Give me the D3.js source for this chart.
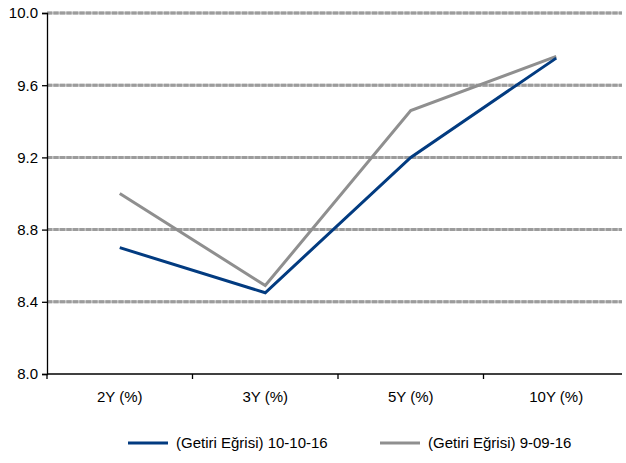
<!DOCTYPE html>
<html>
<head>
<meta charset="utf-8">
<script src="https://cdn.jsdelivr.net/npm/d3@7"></script>
<style>
body { margin: 0; background: #fff; }
text { font-family: "Liberation Sans", Arial, sans-serif; }
</style>
</head>
<body>
<div id="chart"></div>
<script>
var width = 626, height = 463;
var categories = ["2Y (%)", "3Y (%)", "5Y (%)", "10Y (%)"];
var seriesNames = ["(Getiri Eğrisi) 10-10-16", "(Getiri Eğrisi) 9-09-16"];
var blueValues = [8.70, 8.45, 9.20, 9.75];
var grayValues = [9.00, 8.49, 9.46, 9.76];
var yTicks = [8.0, 8.4, 8.8, 9.2, 9.6, 10.0];
var colors = ["#023b80", "#8f8f8f"];

var margin = {left: 47, right: -3, top: 13, bottom: 89};

var svg = d3.select("#chart").append("svg").attr("width", width).attr("height", height);

var x = d3.scaleBand().domain(categories).range([margin.left, width - margin.right]);
var y = d3.scaleLinear().domain([8, 10]).range([height - margin.bottom, margin.top]);

// grid lines: light base with darker dashes on top
var gridVals = yTicks.filter(function (d) { return d > 8; });
["#c4c4c4", "#9c9c9c"].forEach(function (c, k) {
    svg.append("g").selectAll("line").data(gridVals).enter()
        .append("line")
        .attr("x1", margin.left).attr("x2", 622)
        .attr("y1", function (d) { return y(d); }).attr("y2", function (d) { return y(d); })
        .attr("stroke", c).attr("stroke-width", 3)
        .attr("stroke-dasharray", k === 1 ? "5,1.5" : null);
});

var yAxis = d3.axisLeft(y).tickValues(yTicks).tickFormat(d3.format(".1f")).tickSize(5).tickPadding(4);
var yG = svg.append("g").attr("transform", "translate(" + margin.left + ",0)").call(yAxis);
yG.select(".domain").attr("stroke", "#000").attr("stroke-width", 1.3);
yG.selectAll(".tick line").attr("stroke", "#000").attr("stroke-width", 1.3);
yG.selectAll("text").attr("font-size", 15).attr("fill", "#000")
    .attr("font-family", "Liberation Sans, Arial, sans-serif");

// x axis
var xG = svg.append("g").attr("transform", "translate(0," + y(8) + ")");
xG.append("line").attr("x1", margin.left).attr("x2", 622).attr("stroke", "#000").attr("stroke-width", 1.3);
xG.selectAll(".xt").data(categories).enter().append("line")
    .attr("x1", function (d) { return x(d); }).attr("x2", function (d) { return x(d); })
    .attr("y1", 0).attr("y2", 5).attr("stroke", "#000").attr("stroke-width", 1.3);
xG.selectAll("text").data(categories).enter().append("text")
    .attr("x", function (d) { return x(d) + x.bandwidth() / 2; })
    .attr("y", 28).attr("text-anchor", "middle").attr("font-size", 15).text(function (d) { return d; });

var line = d3.line()
    .x(function (d, i) { return x(categories[i]) + x.bandwidth() / 2; })
    .y(function (d) { return y(d); });

[grayValues, blueValues].forEach(function (vals, k) {
    svg.append("path").datum(vals).attr("d", line)
        .attr("fill", "none").attr("stroke", k === 0 ? colors[1] : colors[0])
        .attr("stroke-width", 3).attr("stroke-linejoin", "miter");
});

// legend
var legendX = [128, 380];
seriesNames.forEach(function (name, i) {
    var g = svg.append("g").attr("transform", "translate(" + legendX[i] + ",443)");
    g.append("line").attr("x1", 0).attr("x2", 40).attr("stroke", colors[i]).attr("stroke-width", 3);
    g.append("text").attr("x", 48).attr("y", 5).attr("font-size", 15).text(name);
});
</script>
</body>
</html>
